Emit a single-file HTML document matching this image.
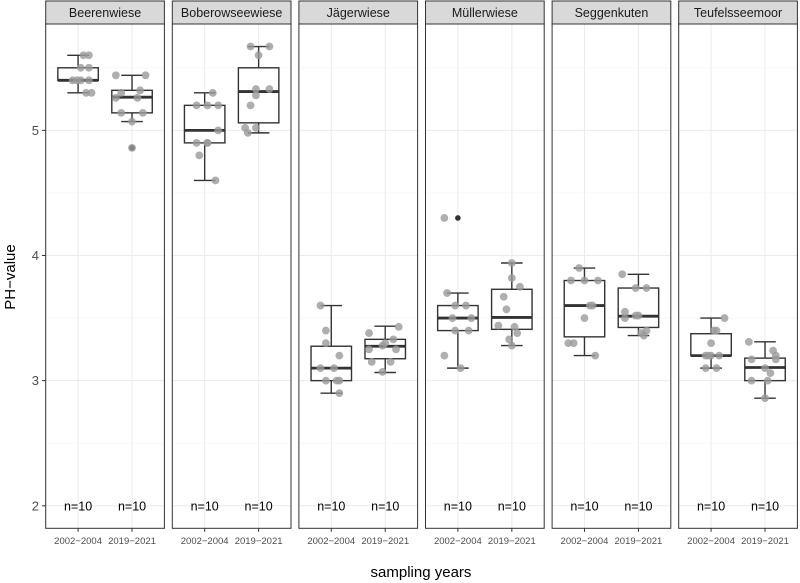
<!DOCTYPE html>
<html><head><meta charset="utf-8"><style>
body{margin:0;background:#fff;width:800px;height:583px;overflow:hidden}
svg{display:block;font-family:"Liberation Sans",sans-serif}
</style></head><body>
<svg id="chart" width="800" height="583" viewBox="0 0 800 583" xmlns="http://www.w3.org/2000/svg"></svg>
<script>
const sites = ["Beerenwiese","Boberowseewiese","Jägerwiese","Müllerwiese","Seggenkuten","Teufelsseemoor"];
const periods = ["2002\u22122004","2019\u22122021"];
const yTicks = [2,3,4,5];
const nLabels = ["n=10","n=10"];
// box stats per site per period
const boxLow = [[5.30,5.07],[4.60,4.98],[2.90,3.065],[3.10,3.28],[3.20,3.36],[3.10,2.86]];
const boxQ1 = [[5.40,5.14],[4.90,5.06],[3.00,3.175],[3.40,3.41],[3.35,3.425],[3.20,3.00]];
const boxMed = [[5.40,5.265],[5.00,5.31],[3.10,3.275],[3.50,3.505],[3.60,3.515],[3.20,3.105]];
const boxQ3 = [[5.50,5.32],[5.20,5.50],[3.275,3.33],[3.60,3.73],[3.80,3.74],[3.375,3.18]];
const boxHigh = [[5.60,5.44],[5.30,5.67],[3.60,3.435],[3.70,3.94],[3.90,3.85],[3.50,3.31]];
const outliers = [[[],[4.86]],[[],[]],[[],[]],[[4.30],[]],[[],[]],[[],[]]];
const pointVals = [
 [[5.6,5.6,5.5,5.5,5.4,5.4,5.4,5.4,5.3,5.3],[5.44,5.44,5.32,5.3,5.26,5.26,5.14,5.14,5.07,4.86]],
 [[5.3,5.2,5.2,5.2,5.0,4.9,4.9,4.9,4.8,4.6],[5.67,5.67,5.6,5.33,5.33,5.28,5.2,5.02,5.02,4.98]],
 [[3.6,3.4,3.3,3.2,3.1,3.1,3.0,3.0,3.0,2.9],[3.43,3.38,3.33,3.28,3.25,3.25,3.15,3.15,3.07,3.3]],
 [[4.3,3.7,3.6,3.6,3.5,3.5,3.4,3.4,3.2,3.1],[3.94,3.82,3.75,3.67,3.57,3.44,3.43,3.38,3.33,3.28]],
 [[3.9,3.8,3.8,3.8,3.6,3.6,3.5,3.3,3.3,3.2],[3.85,3.74,3.74,3.55,3.52,3.5,3.52,3.4,3.36,3.38]],
 [[3.5,3.4,3.4,3.3,3.2,3.2,3.2,3.1,3.1,3.2],[3.31,3.24,3.2,3.17,3.17,3.06,3.0,3.0,2.86,3.1]]
];
const pointJit = [
 [[0.1,0.2,0.05,0.2,-0.1,0.05,0.2,-0.02,0.15,0.25],[-0.3,0.25,0.15,-0.2,0.1,-0.3,-0.2,0.2,0,0.0]],
 [[0.15,-0.15,0.05,0.25,0.25,-0.15,0.05,0.05,-0.1,0.2],[-0.15,0.2,0.0,0.2,-0.05,-0.05,-0.15,-0.25,-0.05,-0.2]],
 [[-0.2,-0.1,-0.1,0.15,-0.2,0.05,-0.1,0.15,0.1,0.15],[0.25,-0.3,0.15,-0.05,-0.3,0.2,-0.25,0.1,-0.05,0.0]],
 [[-0.25,-0.2,-0.05,0.15,-0.1,0.25,-0.05,0.2,-0.25,0.05],[0.0,0.0,0.15,-0.15,-0.1,-0.25,0.05,0.1,-0.05,0.0]],
 [[-0.1,-0.25,0.0,0.25,0.15,0.1,0.0,-0.3,-0.2,0.2],[-0.3,-0.05,0.15,-0.25,0.0,-0.25,-0.05,0.15,0.1,0.05]],
 [[0.25,0.1,0.05,0.0,0.0,-0.05,0.15,-0.1,0.1,-0.1],[-0.3,0.15,0.2,-0.25,0.2,0.1,-0.25,0.05,0.0,0.0]]
];

const svg = document.getElementById('chart');
const NS = "http://www.w3.org/2000/svg";
function mk(tag, attrs, parent){const e=document.createElementNS(NS,tag);for(const k in attrs)e.setAttribute(k,attrs[k]);(parent||svg).appendChild(e);return e;}
const panelL0 = 45.7, panelStep = 126.6, panelW = 118.7, plotTop = 24, plotBottom = 528.3, stripTop = 1;
const yMin = 1.82, yMax = 5.85;
function yS(v){return plotBottom - (v - yMin)/(yMax - yMin)*(plotBottom - plotTop);}
function xS(p, c){const L=panelL0+p*panelStep;return L + (c+0.6)/2.2*panelW;}
const unit = panelW/2.2;

yTicks.forEach(t=>{
  const y=yS(t);
  const tk=mk('line',{x1:42,x2:45.7,y1:y,y2:y,stroke:'#333','stroke-width':1});
  
  
  const tx=mk('text',{x:39,y:y+4.5,'text-anchor':'end','font-size':13,fill:'#4d4d4d'});
  tx.textContent=t;
  
  
});
const yt=mk('text',{x:0,y:0,transform:'translate(15,277) rotate(-90)','text-anchor':'middle','font-size':15,fill:'#000'});
yt.textContent='PH\u2212value';


const xt=mk('text',{x:421,y:577,'text-anchor':'middle','font-size':15,fill:'#000'});
xt.textContent='sampling years';



sites.forEach((site,p)=>{
  const L=panelL0+p*panelStep;
  const g=mk('g',{});
  
  
  const st=mk('rect',{x:L,y:stripTop,width:panelW,height:plotTop-stripTop,fill:'#d9d9d9',stroke:'#333','stroke-width':1},g);
  
  
  const stt=mk('text',{x:L+panelW/2,y:17,'text-anchor':'middle','font-size':12.5,fill:'#1a1a1a'},g);
  stt.textContent=site;
  
  
  for(let v=2;v<=5.5;v+=0.5){
    const major=Number.isInteger(v);
    const gl=mk('line',{x1:L,x2:L+panelW,y1:yS(v),y2:yS(v),stroke:major?'#ebebeb':'#f5f5f5','stroke-width':major?1:0.6},g);
    
    
  }
  periods.forEach((per,c)=>{
    const x=xS(p,c);
    const vl=mk('line',{x1:x,x2:x,y1:plotTop,y2:plotBottom,stroke:'#ebebeb','stroke-width':1},g);
    
    
    const xtk=mk('line',{x1:x,x2:x,y1:plotBottom,y2:plotBottom+3.5,stroke:'#333'},g);
    
    
    const xl=mk('text',{x:x,y:544,'text-anchor':'middle','font-size':9.5,fill:'#4d4d4d'},g);
    xl.textContent=per;
    
    
    const bw=0.75*unit, cap=0.2*unit;
    const lo=boxLow[p][c],q1=boxQ1[p][c],md=boxMed[p][c],q3=boxQ3[p][c],hi=boxHigh[p][c];
    const wh=mk('path',{d:`M${x},${yS(q3)}V${yS(hi)}M${x-cap},${yS(hi)}H${x+cap}M${x},${yS(q1)}V${yS(lo)}M${x-cap},${yS(lo)}H${x+cap}`,stroke:'#333','stroke-width':1.4,fill:'none'},g);
    
    
    const bx=mk('rect',{x:x-bw/2,y:yS(q3),width:bw,height:yS(q1)-yS(q3),fill:'#fff',stroke:'#333','stroke-width':1.4},g);
    
    
    const ml=mk('line',{x1:x-bw/2,x2:x+bw/2,y1:yS(md),y2:yS(md),stroke:'#333','stroke-width':2.8},g);
    
    
    outliers[p][c].forEach(v=>{
      const o=mk('circle',{cx:x,cy:yS(v),r:2.8,fill:'#333'},g);
      
      
    });
    pointVals[p][c].forEach((v,i)=>{
      const pt=mk('circle',{cx:x+pointJit[p][c][i]*unit,cy:yS(v),r:3.9,fill:'#9a9a9a','fill-opacity':0.8},g);
      
      
    });
    const nt=mk('text',{x:x,y:yS(2)+4.5,'text-anchor':'middle','font-size':12.5,fill:'#000'},g);
    nt.textContent=nLabels[c];
    
    
  });
  const fr=mk('rect',{x:L,y:plotTop,width:panelW,height:plotBottom-plotTop,fill:'none',stroke:'#333','stroke-width':1},g);
  
  
});
</script>
</body></html>
